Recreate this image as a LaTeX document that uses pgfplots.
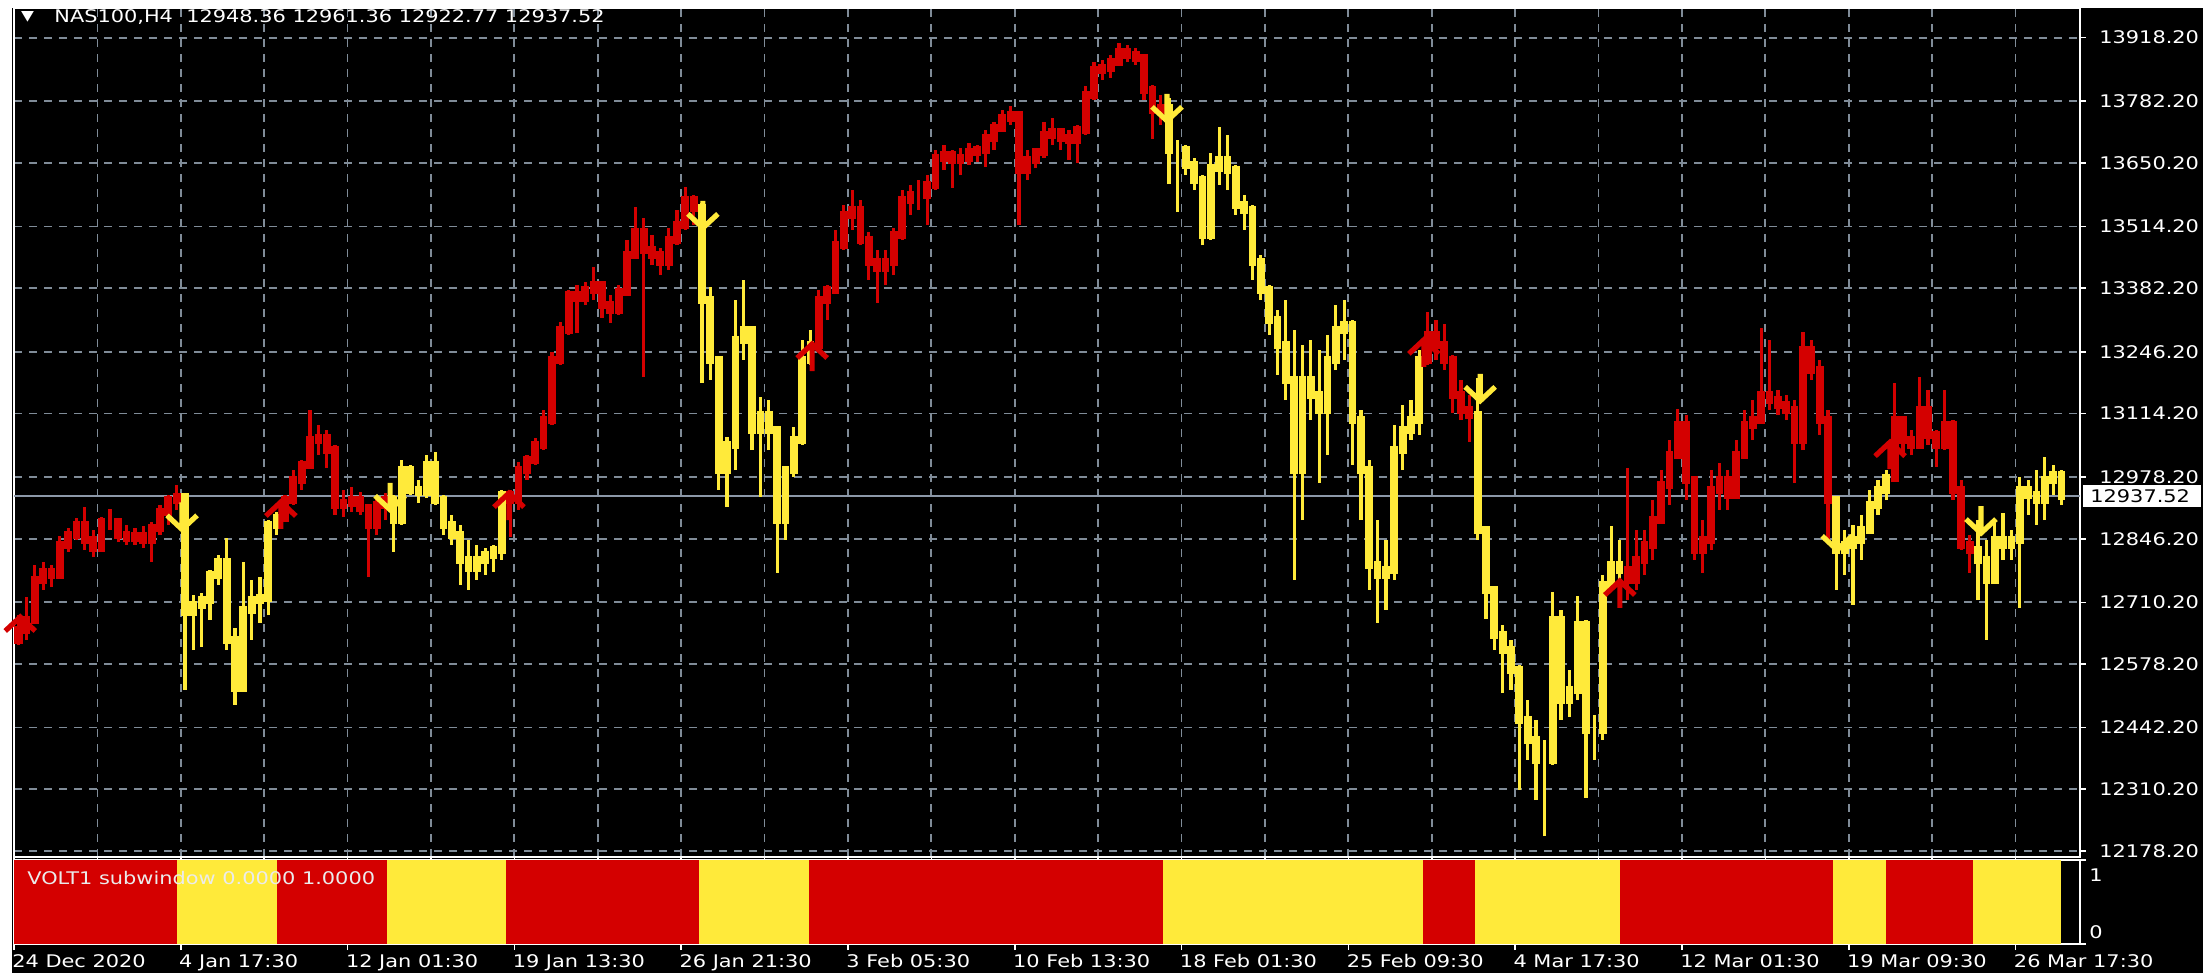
\documentclass[border=0pt]{standalone}
\usepackage{pgfplots}
\pgfplotsset{compat=1.18}
\usepackage{pgfplotstable}
\usepackage{fontspec}
\newfontfamily\mt{DejaVu Sans}[FakeStretch=1.2]
\newcommand\mtf{\mt\fontsize{8.7}{10.4}\selectfont}
\definecolor{mtred}{RGB}{212,0,0}
\definecolor{mtyel}{RGB}{255,234,58}
\definecolor{gridc}{RGB}{128,140,152}
\definecolor{pricel}{RGB}{140,152,168}
\pgfdeclareplotmark{uparr}{%
 \pgfpathmoveto{\pgfqpoint{0pt}{-7pt}}\pgfpathlineto{\pgfqpoint{0pt}{7pt}}%
 \pgfpathmoveto{\pgfqpoint{-7.5pt}{-0.5pt}}\pgfpathlineto{\pgfqpoint{0pt}{6.5pt}}\pgfpathlineto{\pgfqpoint{7.5pt}{-0.5pt}}%
 \pgfusepathqstroke}
\pgfdeclareplotmark{dnarr}{%
 \pgfpathmoveto{\pgfqpoint{0pt}{7pt}}\pgfpathlineto{\pgfqpoint{0pt}{-7pt}}%
 \pgfpathmoveto{\pgfqpoint{-7.5pt}{0.5pt}}\pgfpathlineto{\pgfqpoint{0pt}{-6.5pt}}\pgfpathlineto{\pgfqpoint{7.5pt}{0.5pt}}%
 \pgfusepathqstroke}

\pgfplotstableread{
x o h l c
1 12630 12683 12619 12651
3 12651 12722 12630 12672
5 12672 12790 12668 12758
7 12758 12797 12737 12775
9 12775 12790 12743 12769
11 12769 12852 12762 12833
13 12833 12869 12818 12854
15 12854 12891 12844 12876
17 12876 12914 12822 12844
19 12844 12865 12807 12827
21 12827 12893 12818 12882
23 12882 12910 12865 12882
25 12882 12891 12839 12854
27 12854 12876 12833 12848
29 12848 12869 12833 12852
31 12852 12874 12827 12844
33 12844 12882 12797 12869
35 12869 12918 12854 12903
37 12903 12940 12876 12929
39 12929 12961 12908 12936
65 12891 12940 12886 12929
67 12929 12993 12918 12972
69 12972 13015 12951 13004
71 13004 13122 13004 13058
73 13058 13090 13025 13062
75 13062 13079 12998 13036
77 13036 13047 12897 12918
79 12918 12951 12893 12923
81 12923 12957 12903 12929
83 12929 12946 12897 12912
85 12912 12918 12764 12876
87 12876 12933 12854 12918
89 12918 12944 12886 12929
119 12940 12951 12850 12929
121 12929 13010 12908 12993
123 12993 13025 12972 13015
125 13015 13062 13004 13047
127 13047 13122 13036 13100
129 13100 13246 13090 13229
131 13229 13310 13218 13293
133 13293 13378 13282 13368
135 13368 13389 13286 13361
137 13361 13396 13346 13378
139 13378 13428 13357 13389
141 13389 13389 13319 13346
143 13346 13368 13308 13336
145 13336 13389 13325 13374
147 13374 13485 13368 13453
149 13453 13556 13453 13502
151 13502 13532 13192 13464
153 13464 13496 13432 13453
155 13453 13468 13410 13438
157 13438 13511 13421 13485
159 13485 13550 13474 13517
161 13517 13599 13507 13571
163 13571 13582 13517 13554
193 13261 13378 13261 13357
195 13357 13389 13314 13378
197 13378 13507 13378 13474
199 13474 13560 13464 13539
201 13539 13592 13507 13550
203 13550 13571 13474 13485
205 13485 13502 13400 13438
207 13438 13464 13351 13426
209 13426 13464 13389 13438
211 13438 13511 13410 13496
213 13496 13592 13485 13571
215 13571 13603 13539 13582
217 13582 13614 13550 13582
219 13582 13624 13517 13603
221 13603 13678 13592 13661
223 13661 13689 13635 13667
225 13667 13678 13597 13657
227 13657 13682 13624 13661
229 13661 13693 13646 13674
231 13674 13689 13652 13678
233 13678 13721 13642 13704
235 13704 13738 13678 13725
237 13725 13764 13721 13746
239 13746 13772 13731 13753
241 13753 13753 13517 13635
243 13635 13678 13614 13657
245 13657 13682 13639 13674
247 13674 13738 13661 13710
249 13710 13746 13689 13716
251 13716 13725 13678 13704
253 13704 13721 13657 13699
255 13699 13731 13650 13721
257 13721 13815 13710 13796
259 13796 13866 13785 13849
261 13849 13870 13828 13853
263 13853 13881 13832 13866
265 13866 13907 13860 13888
267 13888 13903 13866 13881
269 13881 13896 13860 13875
271 13875 13881 13785 13806
273 13806 13817 13701 13764
275 13764 13796 13731 13768
339 13229 13331 13218 13282
341 13282 13314 13229 13261
343 13261 13306 13207 13229
345 13229 13239 13115 13154
347 13154 13186 13100 13122
349 13122 13154 13053 13111
387 12779 12998 12715 12758
389 12758 12865 12737 12801
391 12801 12865 12769 12833
393 12833 12929 12801 12886
395 12886 12993 12886 12961
397 12961 13058 12918 13025
399 13025 13124 13025 13090
401 13090 13111 12929 12972
403 12972 12972 12801 12822
405 12822 12886 12773 12844
407 12844 12993 12822 12951
409 12951 13008 12908 12972
411 12972 12993 12908 12940
413 12940 13058 12940 13025
415 13025 13122 13025 13090
417 13090 13143 13058 13100
419 13100 13297 13100 13154
421 13154 13271 13122 13143
423 13143 13164 13111 13132
425 13132 13154 13100 13122
427 13122 13143 12966 13058
429 13058 13289 13036 13250
431 13250 13271 13186 13207
433 13207 13229 13068 13100
435 13100 13122 12837 12929
451 12976 13180 12976 13100
453 13100 13100 13025 13058
455 13058 13079 13025 13047
457 13047 13192 13047 13122
459 13122 13164 13047 13068
461 13068 13079 13000 13047
463 13047 13164 13036 13090
465 13090 13100 12929 12951
467 12951 12972 12822 12833
469 12833 12854 12773 12822
}\redbars

\pgfplotstableread{
x o h l c
41 12936 12940 12523 12690
43 12690 12726 12608 12705
45 12705 12730 12615 12715
47 12715 12779 12672 12769
49 12769 12812 12747 12797
51 12797 12848 12608 12630
53 12630 12655 12491 12527
55 12527 12797 12518 12694
57 12694 12758 12630 12715
59 12715 12764 12666 12720
61 12720 12886 12683 12876
63 12876 12903 12854 12891
91 12929 12940 12818 12886
93 12886 13015 12876 12993
95 12993 13004 12940 12951
97 12951 12972 12923 12946
99 12946 13025 12933 13004
101 13004 13032 12918 12929
103 12929 12940 12854 12876
105 12876 12897 12833 12854
107 12854 12876 12747 12801
109 12801 12844 12737 12784
111 12784 12833 12758 12801
113 12801 12827 12769 12812
115 12812 12833 12775 12822
117 12822 12951 12801 12940
165 13554 13565 13180 13357
167 13357 13385 13186 13229
169 13229 13229 12951 12993
171 12993 13064 12914 13047
173 13047 13357 12993 13271
175 13271 13400 13229 13293
177 13293 13293 13036 13079
179 13079 13150 12936 13111
181 13111 13143 13036 13079
183 13079 13079 12773 12886
185 12886 12993 12844 12993
187 12993 13085 12978 13058
189 13058 13271 13047 13229
191 13229 13293 13218 13261
277 13768 13789 13605 13678
279 13678 13699 13545 13678
281 13678 13689 13624 13646
283 13646 13661 13592 13614
285 13614 13624 13474 13496
287 13496 13672 13485 13639
289 13639 13727 13603 13657
291 13657 13710 13592 13635
293 13635 13646 13539 13560
295 13560 13582 13507 13550
297 13550 13560 13400 13438
299 13438 13453 13357 13378
301 13378 13389 13282 13314
303 13314 13336 13197 13261
305 13261 13357 13143 13186
307 13186 13293 12758 12993
309 12993 13261 12886 13186
311 13186 13271 13100 13154
313 13154 13250 12966 13122
315 13122 13282 13025 13229
317 13229 13346 13207 13293
319 13293 13357 13229 13304
321 13304 13314 13004 13100
323 13100 13122 12886 12993
325 12993 13015 12737 12790
327 12790 12886 12666 12769
329 12769 12844 12694 12779
331 12779 13090 12758 13036
333 13036 13132 12993 13079
335 13079 13143 13058 13100
337 13100 13250 13068 13229
351 13111 13190 12844 12865
353 12865 12865 12675 12737
355 12737 12737 12608 12640
357 12640 12662 12516 12608
359 12608 12630 12523 12565
361 12565 12576 12309 12459
363 12459 12501 12373 12416
365 12416 12459 12287 12373
367 12373 12416 12210 12373
369 12373 12732 12362 12672
371 12672 12694 12459 12501
373 12501 12565 12465 12523
375 12523 12724 12501 12662
377 12662 12672 12292 12437
379 12437 12469 12373 12437
381 12437 12769 12416 12747
383 12747 12874 12737 12790
385 12790 12844 12747 12779
437 12929 12929 12737 12822
439 12822 12865 12769 12833
441 12833 12876 12705 12844
443 12844 12897 12801 12865
445 12865 12951 12865 12918
447 12918 12972 12897 12951
449 12951 12993 12929 12976
471 12822 12886 12715 12801
473 12801 12844 12630 12758
475 12758 12886 12758 12844
477 12844 12901 12801 12833
479 12833 12865 12801 12844
481 12844 12978 12698 12951
483 12951 12972 12897 12940
485 12940 12993 12876 12929
487 12929 13021 12886 12972
489 12972 13004 12940 12983
491 12983 12993 12918 12937.52
}\yelbars

\begin{document}
\begin{tikzpicture}
\path[use as bounding box] (0,0) rectangle (1101.5pt,486.5pt);
\fill[white] (0,0) rectangle (1101.5pt,486.5pt);
\fill[black] (6pt,0) rectangle (1101.5pt,482.5pt);

\begin{axis}[
  at={(7pt,482.5pt)}, anchor=north west,
  scale only axis, width=1033pt, height=424.5pt,
  xmin=0, xmax=495.44, ymin=12165.3, ymax=13981.7,
  axis line style={white, line width=1pt},
  xtick={0,20,...,480}, xticklabels={},
  ytick={12178.2,12310.2,12442.2,12578.2,12710.2,12846.2,12978.2,13114.2,13246.2,13382.2,13514.2,13650.2,13782.2,13918.2},
  yticklabels={12178.20,12310.20,12442.20,12578.20,12710.20,12846.20,12978.20,13114.20,13246.20,13382.20,13514.20,13650.20,13782.20,13918.20},
  grid=major,
  major grid style={gridc, line width=0.9pt, dash pattern=on 4pt off 3.5pt},
  xtick pos=bottom, ytick pos=right, yticklabel pos=right,
  tick align=outside, major tick length=3pt,
  major tick style={white, line width=0.8pt},
  yticklabel style={anchor=west, inner sep=0pt, xshift=6.5pt, font=\mtf, text=white},
  extra y ticks={12937.52}, extra y tick labels={12937.52},
  extra y tick style={major grid style={solid, pricel, line width=0.9pt},
     major tick length=0pt,
     yticklabel style={fill=white, text=black, text width=52pt, inner xsep=3.5pt, inner ysep=2pt, xshift=-5pt}},
]
% wicks (high-low) and bodies (open-close), red regime
\addplot[forget plot, mtred, line width=1.6pt, quiver={u=0, v=\thisrow{h}-\thisrow{l}}]
  table[x=x, y=l] {\redbars};
\addplot[forget plot, mtred, line width=3.9pt, line cap=rect, quiver={u=0, v=\thisrow{c}-\thisrow{o}}]
  table[x=x, y=o] {\redbars};
% yellow regime
\addplot[forget plot, mtyel, line width=1.6pt, quiver={u=0, v=\thisrow{h}-\thisrow{l}}]
  table[x=x, y=l] {\yelbars};
\addplot[forget plot, mtyel, line width=3.9pt, line cap=rect, quiver={u=0, v=\thisrow{c}-\thisrow{o}}]
  table[x=x, y=o] {\yelbars};
% signal arrows
\addplot[only marks, mark=uparr, mark options={mtred, line width=2.6pt}]
  coordinates {(1.5,12651) (64.0,12897) (118.7,12916) (191.4,13235) (338.1,13244) (385.1,12728) (449.9,13025)};
\addplot[only marks, mark=dnarr, mark options={mtyel, line width=2.6pt}]
  coordinates {(40.3,12894) (90.2,12936) (165.2,13539) (276.5,13768) (351.6,13169) (437.2,12850) (471.7,12886)};
\end{axis}

\begin{axis}[
  at={(7pt,56.5pt)}, anchor=north west,
  scale only axis, width=1033pt, height=42pt,
  xmin=0, xmax=495.44, ymin=0, ymax=1,
  clip mode=individual,
  axis line style={white, line width=1pt},
  xtick={0,40,...,480},
  xticklabels={24 Dec 2020,4 Jan 17:30,12 Jan 01:30,19 Jan 13:30,26 Jan 21:30,3 Feb 05:30,10 Feb 13:30,18 Feb 01:30,25 Feb 09:30,4 Mar 17:30,12 Mar 01:30,19 Mar 09:30,26 Mar 17:30},
  ytick={0,1}, yticklabels={,},
  xtick pos=bottom, ytick pos=right,
  tick align=outside, major tick length=3pt,
  major tick style={white, line width=0.8pt},
  xticklabel style={anchor=north west, inner sep=0pt, xshift=-1pt, yshift=-2pt, font=\mtf, text=white},
]
\addplot[fill=mtred, draw=none] coordinates {(0,0) (0,1) (39.1,1) (39.1,0)};
\addplot[fill=mtyel, draw=none] coordinates {(39.1,0) (39.1,1) (63.1,1) (63.1,0)};
\addplot[fill=mtred, draw=none] coordinates {(63.1,0) (63.1,1) (89.4,1) (89.4,0)};
\addplot[fill=mtyel, draw=none] coordinates {(89.4,0) (89.4,1) (118,1) (118,0)};
\addplot[fill=mtred, draw=none] coordinates {(118,0) (118,1) (164.3,1) (164.3,0)};
\addplot[fill=mtyel, draw=none] coordinates {(164.3,0) (164.3,1) (190.6,1) (190.6,0)};
\addplot[fill=mtred, draw=none] coordinates {(190.6,0) (190.6,1) (275.5,1) (275.5,0)};
\addplot[fill=mtyel, draw=none] coordinates {(275.5,0) (275.5,1) (337.9,1) (337.9,0)};
\addplot[fill=mtred, draw=none] coordinates {(337.9,0) (337.9,1) (350.4,1) (350.4,0)};
\addplot[fill=mtyel, draw=none] coordinates {(350.4,0) (350.4,1) (385.1,1) (385.1,0)};
\addplot[fill=mtred, draw=none] coordinates {(385.1,0) (385.1,1) (436.2,1) (436.2,0)};
\addplot[fill=mtyel, draw=none] coordinates {(436.2,0) (436.2,1) (448.9,1) (448.9,0)};
\addplot[fill=mtred, draw=none] coordinates {(448.9,0) (448.9,1) (469.8,1) (469.8,0)};
\addplot[fill=mtyel, draw=none] coordinates {(469.8,0) (469.8,1) (490.9,1) (490.9,0)};
\node[anchor=west, inner sep=0pt, text=white!92!black, font=\mtf] at (axis cs:3.1,0.786) {VOLT1 subwindow 0.0000 1.0000};
\node[anchor=west, inner sep=0pt, text=white, font=\mtf] at (rel axis cs:1,0.82) [xshift=4.5pt] {1};
\node[anchor=west, inner sep=0pt, text=white, font=\mtf] at (rel axis cs:1,0.143) [xshift=4.5pt] {0};
\end{axis}

\node[anchor=center, inner sep=0pt, text=white, font=\mt\fontsize{7}{8}\selectfont] at (13.8pt,478.3pt) {▼};
\node[anchor=west, inner sep=0pt, text=white, font=\mtf] at (27pt,478pt) {NAS100,H4\ \ 12948.36 12961.36 12922.77 12937.52};
\end{tikzpicture}
\end{document}
